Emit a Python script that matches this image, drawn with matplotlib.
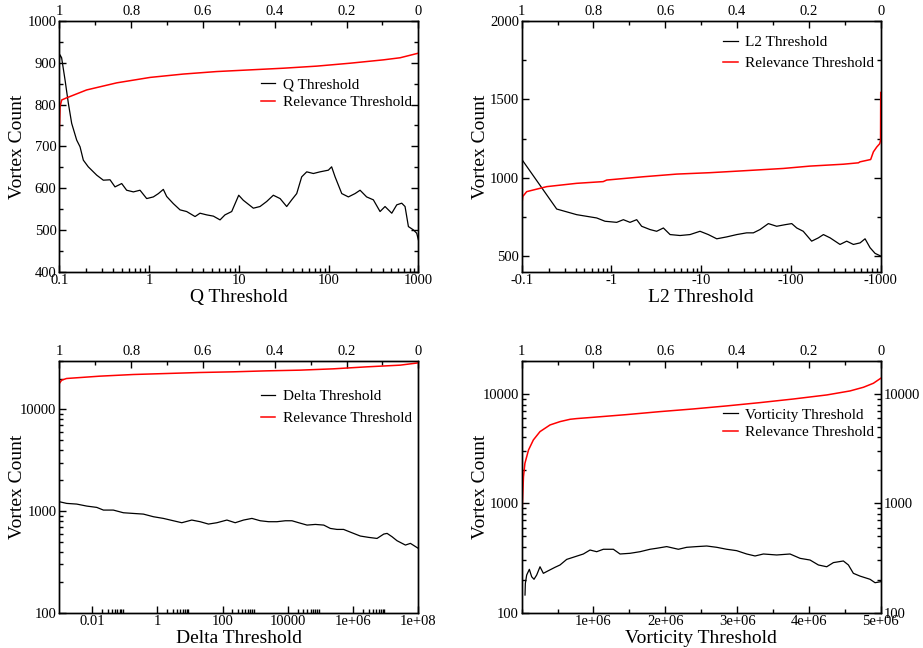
# Vortex count against four vortex criteria thresholds, each with relevance threshold on top axis

import matplotlib
matplotlib.use('Agg')
import matplotlib.pyplot as plt
from matplotlib.ticker import FixedLocator, FixedFormatter, NullFormatter, MultipleLocator, LogLocator

plt.rcParams['font.family'] = 'Liberation Serif'

# Relevance threshold axis (top of every panel)
relTicks = [1, 0.8, 0.6, 0.4, 0.2, 0]
relLabels = ['1', '0.8', '0.6', '0.4', '0.2', '0']

# Q threshold panel
qThresh = [0.1, 0.1017, 0.106, 0.1157, 0.126, 0.1372, 0.156, 0.17, 0.185, 0.21, 0.261, 0.309, 0.367,
           0.417, 0.495, 0.562, 0.668, 0.792, 0.94, 1.115, 1.27, 1.44, 1.57, 1.86, 2.21, 2.62, 3.25,
           3.69, 4.38, 5.2, 6.17, 7.0, 8.32, 9.96, 11.2, 14.5, 17.2, 20.4, 24.2, 28.8, 34.1, 38.8,
           44.1, 50.1, 57.0, 67.6, 80.2, 99.3, 108, 118, 140, 166, 197, 224, 265, 315, 374, 425,
           505, 574, 652, 710, 774, 880, 958, 1000]
qCount = [905, 919, 912, 859, 803, 755, 715, 699, 667, 651, 631, 619, 620, 603, 611, 595, 591, 595,
          575, 579, 587, 597, 580, 563, 548, 544, 532, 540, 536, 533, 524, 536, 544, 583, 571, 552,
          556, 568, 583, 575, 556, 572, 587, 627, 639, 635, 639, 643, 651, 627, 587, 579, 587, 595,
          579, 572, 544, 556, 540, 560, 564, 556, 508, 500, 492, 476]
qRel = [1, 0.998, 0.9935, 0.98, 0.924, 0.84, 0.747, 0.655, 0.562, 0.469, 0.376, 0.283, 0.19, 0.0975,
        0.051, 0]
qRelCount = [740, 795, 811, 816, 835, 852, 865, 873, 879, 883, 887, 892, 899, 907, 912, 923]

# L2 threshold panel (magnitude of the negative threshold)
l2Thresh = [0.1, 0.2455, 0.41, 0.685, 0.848, 1.144, 1.358, 1.61, 1.911, 2.17, 2.69, 3.19, 3.79, 4.50,
            5.81, 7.51, 9.70, 12.0, 14.9, 19.2, 24.9, 32.1, 38.1, 45.2, 56.0, 69.3, 85.9, 102, 116,
            137, 170, 202, 230, 273, 352, 418, 496, 589, 669, 761, 865, 1000]
l2Count = [1118, 800, 764, 743, 722, 715, 732, 715, 732, 690, 669, 658, 679, 637, 631, 637, 658, 637,
           610, 622, 637, 648, 648, 669, 707, 690, 700, 707, 679, 658, 595, 616, 637, 616, 574, 595,
           574, 584, 610, 553, 517, 500]
l2Rel = [1, 0.997, 0.986, 0.93, 0.847, 0.773, 0.763, 0.661, 0.568, 0.475, 0.383, 0.271, 0.197, 0.104,
         0.062, 0.058, 0.028, 0.0204, 0.011, 0.0028, 0.0005, 0]
l2RelCount = [816, 880, 911, 943, 964, 975, 985, 1006, 1023, 1032, 1044, 1059, 1074, 1086, 1095, 1101,
              1116, 1165, 1196, 1217, 1238, 1544]

# Delta threshold panel
deltaThresh = [0.001, 0.00168, 0.0034, 0.0069, 0.014, 0.0224, 0.045, 0.0914, 0.185, 0.375, 0.76, 1.54,
               3.12, 5.63, 11.4, 20.6, 37, 67, 136, 244, 440, 794, 1430, 2580, 4640, 8370, 13400,
               21500, 38700, 69700, 126000, 200000, 320000, 510000, 920000, 1.66e6, 2.99e6, 5.4e6,
               8.7e6, 1.1e7, 1.56e7, 2.21e7, 4e7, 5.7e7, 1e8]
deltaCount = [1236, 1190, 1172, 1120, 1087, 1023, 1023, 963, 948, 934, 880, 847, 803, 768, 816, 786,
              745, 768, 816, 768, 816, 847, 803, 786, 786, 803, 803, 768, 728, 739, 728, 675, 660,
              660, 612, 568, 551, 538, 594, 603, 559, 511, 463, 481, 429]
deltaRel = [1, 0.9935, 0.98, 0.887, 0.794, 0.701, 0.608, 0.515, 0.4225, 0.33, 0.237, 0.144, 0.051, 0]
deltaRelCount = [18020, 19440, 20180, 21280, 22090, 22600, 23120, 23480, 24000, 24380, 25120, 26280,
                 27300, 28770]

# Vorticity threshold panel
vortThresh = [46400, 51100, 69600, 106800, 139300, 171800, 208900, 255300, 301800, 371400, 464300,
              533900, 626700, 742800, 858900, 951700, 1.0446e6, 1.1374e6, 1.2767e6, 1.3695e6,
              1.5088e6, 1.6481e6, 1.7874e6, 1.8802e6, 2.0195e6, 2.182e6, 2.298e6, 2.4373e6,
              2.5766e6, 2.716e6, 2.855e6, 2.994e6, 3.1337e6, 3.25e6, 3.366e6, 3.5515e6, 3.737e6,
              3.8765e6, 4.0158e6, 4.132e6, 4.248e6, 4.341e6, 4.48e6, 4.55e6, 4.619e6, 4.712e6,
              4.851e6, 4.921e6, 5.0e6]
vortCount = [145, 185, 221, 249, 213, 202, 221, 263, 229, 242, 260, 273, 307, 325, 344, 374, 361, 380,
             380, 344, 349, 361, 380, 388, 402, 380, 396, 402, 407, 396, 380, 369, 344, 330, 344, 337,
             344, 314, 303, 273, 263, 287, 297, 273, 229, 216, 202, 188, 192]
vortRel = [1, 0.998, 0.995, 0.991, 0.981, 0.9675, 0.949, 0.921, 0.893, 0.865, 0.847, 0.80, 0.7075, 0.615,
           0.522, 0.429, 0.336, 0.243, 0.15, 0.0855, 0.048, 0.0204, 0]
vortRelCount = [612, 1000, 1750, 2320, 3070, 3795, 4523, 5206, 5585, 5865, 5950, 6117, 6471, 6890, 7290,
                7770, 8330, 8990, 9790, 10650, 11510, 12520, 13900]

fig = plt.figure(figsize=(9.23, 6.48), dpi=100)

def tickStyle(a):
    a.tick_params(which='both', direction='in', labelsize=10.5, pad=2, width=1)
    a.tick_params(which='major', length=5)
    a.tick_params(which='minor', length=3)
    for s in a.spines.values():
        s.set_linewidth(1)

# Draws one panel: black curve on the bottom axis, red curve on the relevance (top) axis
def addPanel(rect, xs, ys, rs, rys, name, legPos, legSpacing):
    ax = fig.add_axes(rect)
    black, = ax.plot(xs, ys, color='black', lw=0.9)
    top = ax.twiny()
    red, = top.plot(rs, rys, color='red', lw=1.1)
    top.set_xlim(1, 0)
    top.xaxis.set_major_locator(FixedLocator(relTicks))
    top.xaxis.set_major_formatter(FixedFormatter(relLabels))
    top.xaxis.set_minor_locator(MultipleLocator(0.1))
    tickStyle(ax)
    tickStyle(top)
    ax.set_xlabel(name, fontsize=14, labelpad=1)
    ax.set_ylabel('Vortex Count', fontsize=14)
    ax.yaxis.set_label_coords(-0.092, 0.5)
    top.legend([black, red], [name, 'Relevance Threshold'], loc='upper left', bbox_to_anchor=legPos,
               frameon=False, fontsize=11, handlelength=0.95, handletextpad=0.5, borderpad=0,
               borderaxespad=0, labelspacing=legSpacing)
    return ax

w = 0.389
hTop = 0.3869
hBot = 0.3884

# Q threshold
ax1 = addPanel([0.0643, 0.5807, w, hTop], qThresh, qCount, qRel, qRelCount, 'Q Threshold', (0.561, 0.775), 0.3)
ax1.set_xscale('log')
ax1.set_xlim(0.1, 1000)
ax1.set_ylim(400, 1000)
ax1.xaxis.set_major_locator(FixedLocator([0.1, 1, 10, 100, 1000]))
ax1.xaxis.set_major_formatter(FixedFormatter(['0.1', '1', '10', '100', '1000']))
ax1.xaxis.set_minor_locator(LogLocator(base=10, subs=range(2, 10), numticks=50))
ax1.xaxis.set_minor_formatter(NullFormatter())
ax1.yaxis.set_major_locator(MultipleLocator(100))
ax1.yaxis.set_minor_locator(MultipleLocator(50))
ax1.tick_params(axis='y', which='both', right=True)

# L2 threshold
ax2 = addPanel([0.5652, 0.5807, w, hTop], l2Thresh, l2Count, l2Rel, l2RelCount, 'L2 Threshold', (0.5616, 0.943), 0.5)
ax2.set_xscale('log')
ax2.set_xlim(0.1, 1000)
ax2.set_ylim(400, 2000)
ax2.xaxis.set_major_locator(FixedLocator([0.1, 1, 10, 100, 1000]))
ax2.xaxis.set_major_formatter(FixedFormatter(['-0.1', '-1', '-10', '-100', '-1000']))
ax2.xaxis.set_minor_locator(LogLocator(base=10, subs=range(2, 10), numticks=50))
ax2.xaxis.set_minor_formatter(NullFormatter())
ax2.yaxis.set_major_locator(FixedLocator([500, 1000, 1500, 2000]))
ax2.yaxis.set_minor_locator(FixedLocator([750, 1250, 1750]))
ax2.tick_params(axis='y', which='both', right=True)

# Delta threshold
ax3 = addPanel([0.0643, 0.0545, w, hBot], deltaThresh, deltaCount, deltaRel, deltaRelCount, 'Delta Threshold', (0.561, 0.888), 0.57)
ax3.set_xscale('log')
ax3.set_yscale('log')
ax3.set_xlim(0.001, 1e8)
ax3.set_ylim(100, 30000)
ax3.xaxis.set_major_locator(FixedLocator([0.01, 1, 100, 1e4, 1e6, 1e8]))
ax3.xaxis.set_major_formatter(FixedFormatter(['0.01', '1', '100', '10000', '1e+06', '1e+08']))
ax3.xaxis.set_minor_locator(FixedLocator([k * 10.0 ** e for e in (-2, 0, 2, 4, 6) for k in range(2, 10)]))
ax3.xaxis.set_minor_formatter(NullFormatter())
ax3.yaxis.set_major_locator(FixedLocator([100, 1000, 10000]))
ax3.yaxis.set_major_formatter(FixedFormatter(['100', '1000', '10000']))
ax3.yaxis.set_minor_locator(LogLocator(base=10, subs=range(2, 10), numticks=50))
ax3.yaxis.set_minor_formatter(NullFormatter())

# Vorticity threshold
ax4 = addPanel([0.5652, 0.0545, w, hBot], vortThresh, vortCount, vortRel, vortRelCount, 'Vorticity Threshold', (0.5616, 0.814), 0.25)
ax4.set_yscale('log')
ax4.set_xlim(0, 5e6)
ax4.set_ylim(100, 20000)
ax4.xaxis.set_major_locator(FixedLocator([1e6, 2e6, 3e6, 4e6, 5e6]))
ax4.xaxis.set_major_formatter(FixedFormatter(['1e+06', '2e+06', '3e+06', '4e+06', '5e+06']))
ax4.xaxis.set_minor_locator(MultipleLocator(5e5))
ax4.yaxis.set_major_locator(FixedLocator([100, 1000, 10000]))
ax4.yaxis.set_major_formatter(FixedFormatter(['100', '1000', '10000']))
ax4.yaxis.set_minor_locator(LogLocator(base=10, subs=range(2, 10), numticks=50))
ax4.yaxis.set_minor_formatter(NullFormatter())
ax4.tick_params(axis='y', which='both', right=True, labelright=True)

plt.savefig('out.png', dpi=100)
